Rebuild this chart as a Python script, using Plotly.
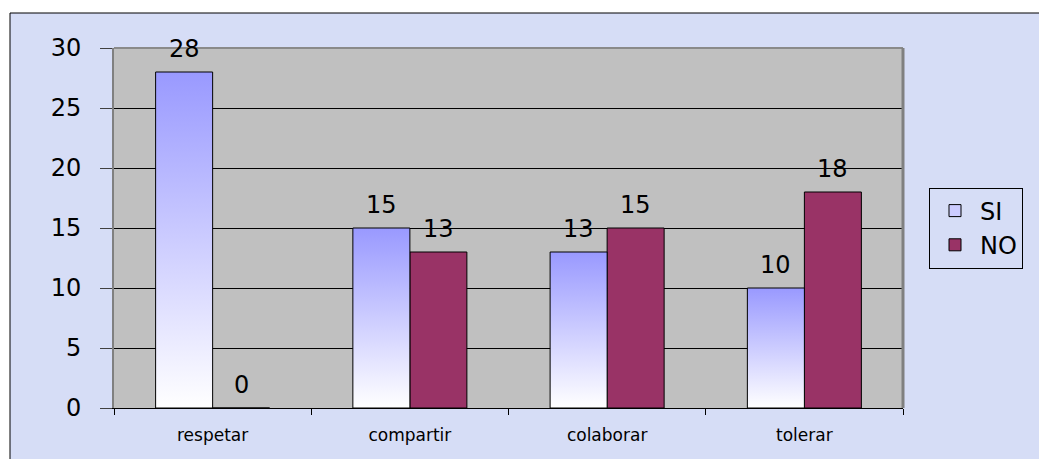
import plotly.graph_objects as go

categories = ["respetar", "compartir", "colaborar", "tolerar"]
si_values = [28, 15, 13, 10]
no_values = [0, 13, 15, 18]
y_ticks = [0, 5, 10, 15, 20, 25, 30]

SI_TOP = "#9999ff"
SI_LEGEND = "#ccccff"
NO_COLOR = "#993366"
BG = "#d6ddf6"
PLOT_BG = "#c0c0c0"
FONT = "DejaVu Sans"

bar_w = 0.289
idx = list(range(len(categories)))

L, T, R, B = 114, 48, 136, 51
W, H = 1039, 459
PW, PH = W - L - R, H - T - B

fig = go.Figure()

# SI bars as gradient-filled polygons (one trace per bar so each has its own gradient)
for i, v in zip(idx, si_values):
    fig.add_trace(go.Scatter(
        x=[i - bar_w, i - bar_w, i, i, i - bar_w],
        y=[0, v, v, 0, 0],
        mode="lines",
        fill="toself",
        fillgradient=dict(type="vertical", colorscale=[[0, "#ffffff"], [1, SI_TOP]],
                          start=0, stop=v),
        line=dict(color="black", width=1),
        name="SI",
        showlegend=False,
        hoverinfo="skip",
    ))

# legend entry for SI
fig.add_trace(go.Bar(
    x=[None], y=[None], name="SI",
    marker=dict(color=SI_LEGEND, line=dict(color="black", width=1)),
))

fig.add_trace(go.Bar(
    x=idx, y=no_values, width=bar_w, offset=0,
    marker=dict(color=NO_COLOR, line=dict(color="black", width=1)),
    name="NO",
))

# value labels
for i, v in zip(idx, si_values):
    fig.add_annotation(x=i - bar_w / 2, y=v, text=str(v), showarrow=False,
                       yanchor="bottom", yshift=7,
                       font=dict(family=FONT, size=24, color="black"))
for i, v in zip(idx, no_values):
    fig.add_annotation(x=i + bar_w / 2, y=v, text=str(v), showarrow=False,
                       yanchor="bottom", yshift=7,
                       font=dict(family=FONT, size=24, color="black"))

# outer frame and plot background
fig.add_shape(type="rect", xref="paper", yref="paper",
              x0=(10 - L) / PW, x1=1.5, y0=-0.5, y1=(H - B - 13) / PH,
              fillcolor=BG, line=dict(color="black", width=1), layer="below")
fig.add_shape(type="rect", xref="paper", yref="paper",
              x0=0, x1=1, y0=0, y1=1,
              fillcolor=PLOT_BG, line=dict(width=0), layer="below")
# plot border (top and right)
fig.add_shape(type="line", xref="paper", yref="paper", x0=0, x1=1, y0=1, y1=1,
              line=dict(color="#8a8a8a", width=2))
fig.add_shape(type="line", xref="paper", yref="paper", x0=1, x1=1, y0=0, y1=1,
              line=dict(color="#808080", width=3))

fig.update_layout(
    width=W, height=H,
    margin=dict(l=L, r=R, t=T, b=B),
    paper_bgcolor="white",
    plot_bgcolor="rgba(0,0,0,0)",
    barmode="overlay",
    font=dict(family=FONT, color="black"),
    showlegend=True,
    legend=dict(x=(929 - L) / PW, xanchor="left", y=0.5, yanchor="middle",
                bgcolor=BG, bordercolor="black", borderwidth=1,
                font=dict(family=FONT, size=24, color="black"),
                itemwidth=40, traceorder="normal"),
    xaxis=dict(
        range=[-0.5, 3.5], tickmode="array", tickvals=idx, ticktext=categories,
        ticks="", showgrid=False, zeroline=False,
        showline=True, linecolor="black", linewidth=1,
        tickfont=dict(family=FONT, size=17, color="black"),
        ticklabelstandoff=12,
        minor=dict(tickmode="array", tickvals=[-0.5, 0.5, 1.5, 2.5, 3.5],
                   ticks="outside", ticklen=6, tickcolor="black", tickwidth=1,
                   showgrid=False),
    ),
    yaxis=dict(
        range=[0, 30], tickmode="array", tickvals=y_ticks,
        ticks="outside", ticklen=12, tickcolor="#404040", tickwidth=1,
        showgrid=True, gridcolor="black", gridwidth=1, zeroline=False,
        showline=True, linecolor="#808080", linewidth=2,
        tickfont=dict(family=FONT, size=24, color="black"),
        ticklabelstandoff=14,
    ),
)

fig.write_html(
    "out.html",
    config={"displayModeBar": False},
    post_script="document.body.style.margin='0';document.body.style.overflow='hidden';",
)
